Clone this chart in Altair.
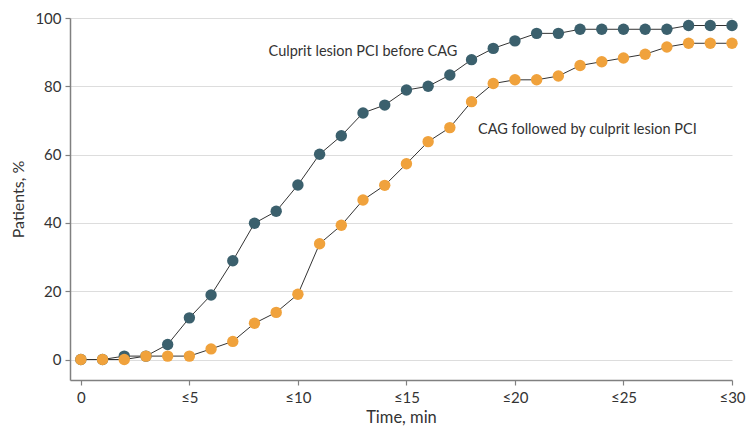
import altair as alt
import pandas as pd

minutes = list(range(0, 31))
pci_first = [0, 0, 1, 1, 4.4, 12.2, 18.9, 28.9, 39.9, 43.4, 51.1, 60.1, 65.5, 72.2, 74.5, 78.9,
             80.0, 83.3, 87.8, 91.1, 93.3, 95.5, 95.5, 96.7, 96.7, 96.7, 96.7, 96.7, 97.8, 97.8, 97.8]
cag_first = [0, 0, 0, 1, 1, 1, 3.1, 5.3, 10.6, 13.8, 19.1, 33.9, 39.3, 46.7, 51.0, 57.3,
             63.8, 67.9, 75.5, 80.8, 81.9, 81.9, 83.0, 86.1, 87.2, 88.3, 89.4, 91.5, 92.6, 92.6, 92.6]
series_names = ["Culprit lesion PCI before CAG", "CAG followed by culprit lesion PCI"]
series_colors = ["#3b606d", "#f0a23c"]
label_x = [8.65, 18.3]
label_y = [90.0, 67.2]
x_ticks = [0, 5, 10, 15, 20, 25, 30]
y_ticks = [0, 20, 40, 60, 80, 100]

rows = []
for m, a, b in zip(minutes, pci_first, cag_first):
    rows.append({"t": m, "pct": a, "group": series_names[0]})
    rows.append({"t": m, "pct": b, "group": series_names[1]})
df = pd.DataFrame(rows)
labels = pd.DataFrame({"t": label_x, "pct": label_y, "text": series_names})

FONT = "Lato"

x = alt.X("t:Q", scale=alt.Scale(domain=[-0.5, 30], nice=False, zero=False),
          axis=alt.Axis(values=x_ticks, title="Time, min", grid=False,
                        labelExpr="datum.value == 0 ? '0' : '≤' + datum.value",
                        labelFontSize=15, titleFontSize=16.5, titlePadding=4, labelPadding=5,
                        tickSize=5, labelFlush=False))
y = alt.Y("pct:Q", scale=alt.Scale(domain=[-6, 100], nice=False, zero=False),
          axis=alt.Axis(values=y_ticks, title="Patients, %", grid=True,
                        labelFontSize=15, titleFontSize=16, titlePadding=8, labelPadding=4,
                        tickSize=5))

lines = alt.Chart(df).mark_line(color="#333333", strokeWidth=1).encode(
    x=x, y=y, detail="group:N")
points = alt.Chart(df).mark_circle(size=130, opacity=1).encode(
    x=x, y=y,
    color=alt.Color("group:N", scale=alt.Scale(domain=series_names, range=series_colors), legend=None))
text = alt.Chart(labels).mark_text(align="left", baseline="middle", font=FONT, fontSize=14.5,
                                   color="#333333").encode(
    x=alt.X("t:Q", scale=alt.Scale(domain=[-0.5, 30], nice=False, zero=False)),
    y=alt.Y("pct:Q", scale=alt.Scale(domain=[-6, 100], nice=False, zero=False)),
    text="text:N")

chart = alt.layer(lines, points, text).properties(
    width=662, height=362,
    autosize=alt.AutoSizeParams(type="none"),
    padding={"left": 62, "top": 10, "right": 15, "bottom": 50},
).configure_view(stroke=None).configure_axis(
    labelFont=FONT, titleFont=FONT, labelColor="#333333", titleColor="#333333",
    titleFontWeight="normal", domainColor="#808080", domainWidth=1.5,
    tickColor="#808080", tickWidth=1.2, gridColor="#dddddd", gridWidth=1.2,
)

chart.save("out.html", embed_options={"renderer": "svg", "actions": False})
